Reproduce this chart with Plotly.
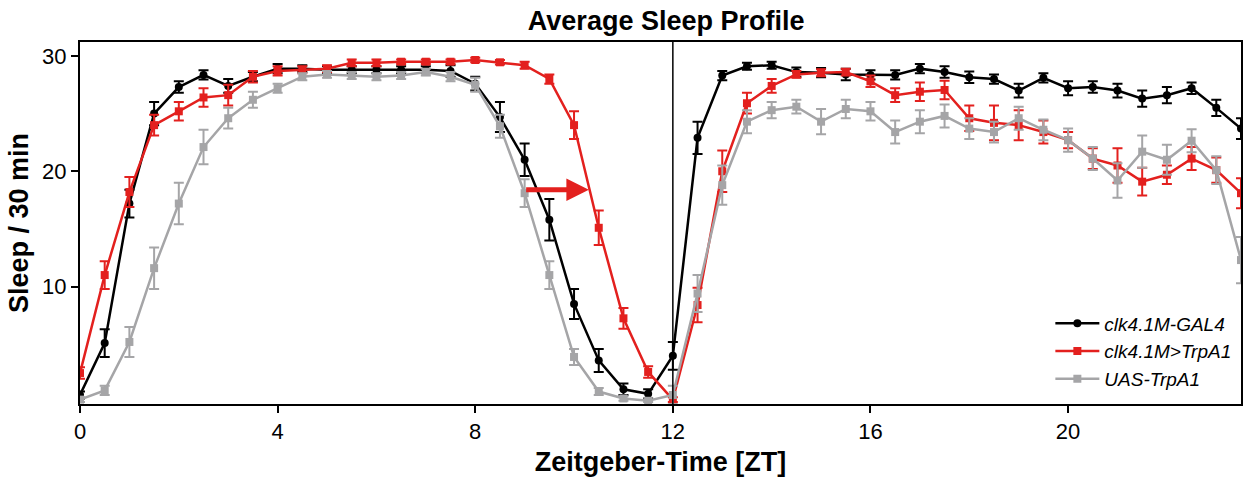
import plotly.graph_objects as go

zt = [0, 0.5, 1, 1.5, 2, 2.5, 3, 3.5, 4, 4.5, 5, 5.5, 6, 6.5, 7, 7.5,
      8, 8.5, 9, 9.5, 10, 10.5, 11, 11.5, 12, 12.5, 13, 13.5, 14, 14.5, 15, 15.5,
      16, 16.5, 17, 17.5, 18, 18.5, 19, 19.5, 20, 20.5, 21, 21.5, 22, 22.5, 23, 23.5]

gal4 = [0.6, 5.1, 17.2, 25.0, 27.3, 28.35, 27.4, 28.2, 28.9, 28.9, 28.8, 28.8, 28.8, 28.8, 28.8, 28.7,
        27.6, 24.7, 21.0, 15.8, 8.5, 3.6, 1.1, 0.7, 4.0, 22.9, 28.3, 29.1, 29.2, 28.6, 28.55, 28.4,
        28.35, 28.35, 28.9, 28.6, 28.15, 28.0, 27.0, 28.1, 27.2, 27.3, 27.0, 26.3, 26.6, 27.2, 25.5, 23.7]
gal4_err = [0.3, 1.2, 1.2, 1.0, 0.5, 0.4, 0.6, 0.4, 0.4, 0.3, 0.3, 0.3, 0.3, 0.3, 0.3, 0.5,
            0.6, 1.3, 1.4, 1.8, 1.3, 1.0, 0.5, 0.4, 1.2, 1.4, 0.4, 0.3, 0.3, 0.4, 0.4, 0.5,
            0.4, 0.4, 0.4, 0.5, 0.5, 0.4, 0.6, 0.4, 0.6, 0.5, 0.6, 0.7, 0.7, 0.5, 0.7, 0.9]

trpa1 = [2.5, 11.0, 18.2, 24.0, 25.2, 26.4, 26.6, 28.2, 28.7, 28.8, 28.9, 29.4, 29.4, 29.5, 29.5, 29.5,
         29.65, 29.45, 29.2, 28.0, 24.0, 15.1, 7.25, 2.6, 0.2, 8.4, 20.0, 25.9, 27.4, 28.4, 28.55, 28.6,
         27.8, 26.6, 26.9, 27.05, 24.6, 24.2, 24.0, 23.4, 22.7, 21.1, 20.5, 19.1, 19.7, 21.1, 20.1, 18.1]
trpa1_err = [0.5, 1.2, 1.3, 0.9, 0.8, 0.8, 0.9, 0.5, 0.4, 0.3, 0.3, 0.3, 0.3, 0.2, 0.2, 0.2,
             0.2, 0.2, 0.3, 0.4, 1.2, 1.5, 0.9, 0.5, 0.2, 1.5, 1.8, 0.9, 0.6, 0.3, 0.3, 0.3,
             0.5, 0.6, 0.8, 0.8, 1.1, 1.5, 1.3, 1.0, 0.7, 0.9, 1.5, 1.2, 0.8, 1.0, 1.1, 1.3]

uas = [0.2, 1.0, 5.2, 11.6, 17.2, 22.1, 24.6, 26.2, 27.2, 28.2, 28.4, 28.3, 28.2, 28.3, 28.6, 28.2,
       27.5, 23.9, 18.1, 11.0, 3.9, 0.9, 0.3, 0.1, 0.6, 9.4, 18.8, 24.3, 25.3, 25.6, 24.3, 25.4,
       25.2, 23.4, 24.3, 24.8, 23.7, 23.4, 24.6, 23.6, 22.7, 21.1, 19.2, 21.7, 21.0, 22.65, 20.1, 12.3]
uas_err = [0.2, 0.4, 1.3, 1.8, 1.8, 1.5, 0.9, 0.7, 0.4, 0.3, 0.3, 0.3, 0.3, 0.3, 0.3, 0.4,
           0.6, 1.0, 1.2, 1.2, 0.7, 0.3, 0.2, 0.1, 0.8, 1.6, 1.7, 1.0, 0.7, 0.6, 1.1, 0.8,
           0.8, 1.0, 1.0, 1.0, 0.9, 0.9, 1.0, 0.9, 1.0, 1.0, 1.5, 1.4, 1.3, 1.0, 1.2, 2.0]

series = [
    ("clk4.1M-GAL4", gal4, gal4_err, "#000000", "circle"),
    ("clk4.1M>TrpA1", trpa1, trpa1_err, "#e3201e", "square"),
    ("UAS-TrpA1", uas, uas_err, "#a5a5a7", "square"),
]

x_ticks = [0, 4, 8, 12, 16, 20]
y_ticks = [10, 20, 30]

fig = go.Figure()
for name, y, err, col, sym in series:
    fig.add_trace(go.Scatter(
        x=zt, y=y, name=name, mode="lines+markers",
        line=dict(color=col, width=2.5),
        marker=dict(color=col, symbol=sym, size=8),
        error_y=dict(type="data", array=err, visible=True, color=col, thickness=2, width=5),
    ))

fig.add_shape(type="line", x0=12, x1=12, y0=0, y1=1, xref="x", yref="paper",
              line=dict(color="black", width=1.5))

fig.add_annotation(x=10.3, y=18.4, ax=9.0, ay=18.4, xref="x", yref="y",
                   axref="x", ayref="y", showarrow=True, text="",
                   arrowhead=2, arrowsize=0.9, arrowwidth=5, arrowcolor="#e3201e")

font_family = "Liberation Sans, Arial, sans-serif"
fig.update_layout(
    width=1244, height=483,
    margin=dict(l=80, r=1, t=42, b=79),
    paper_bgcolor="white", plot_bgcolor="white",
    font=dict(family=font_family, color="black"),
    title=dict(text="Average Sleep Profile", x=0.5355, xanchor="center", y=0.958, yanchor="middle",
               font=dict(size=27, weight="bold", family=font_family, color="black")),
    showlegend=True,
    legend=dict(x=0.996, xanchor="right", y=0.145, yanchor="middle",
                bgcolor="rgba(0,0,0,0)", font=dict(size=19, style="italic", family=font_family),
                tracegroupgap=0, itemwidth=44),
)
fig.update_xaxes(
    range=[0, 23.5], tickvals=x_ticks, ticktext=[str(v) for v in x_ticks],
    showgrid=False, zeroline=False, showline=True, linecolor="black", linewidth=2, mirror=True,
    ticks="outside", ticklen=7, tickwidth=2, tickcolor="black",
    tickfont=dict(size=22, family=font_family),
    title=dict(text="Zeitgeber-Time [ZT]", standoff=9,
               font=dict(size=27, weight="bold", family=font_family)),
)
fig.update_yaxes(
    range=[-0.18, 31.21], tickvals=y_ticks, ticktext=[str(v) for v in y_ticks],
    showgrid=False, zeroline=False, showline=True, linecolor="black", linewidth=2, mirror=True,
    ticks="outside", ticklen=7, tickwidth=2, tickcolor="black",
    tickfont=dict(size=22, family=font_family),
    title=dict(text="Sleep / 30 min", standoff=6,
               font=dict(size=27, weight="bold", family=font_family)),
)

fig.write_html("out.html")
